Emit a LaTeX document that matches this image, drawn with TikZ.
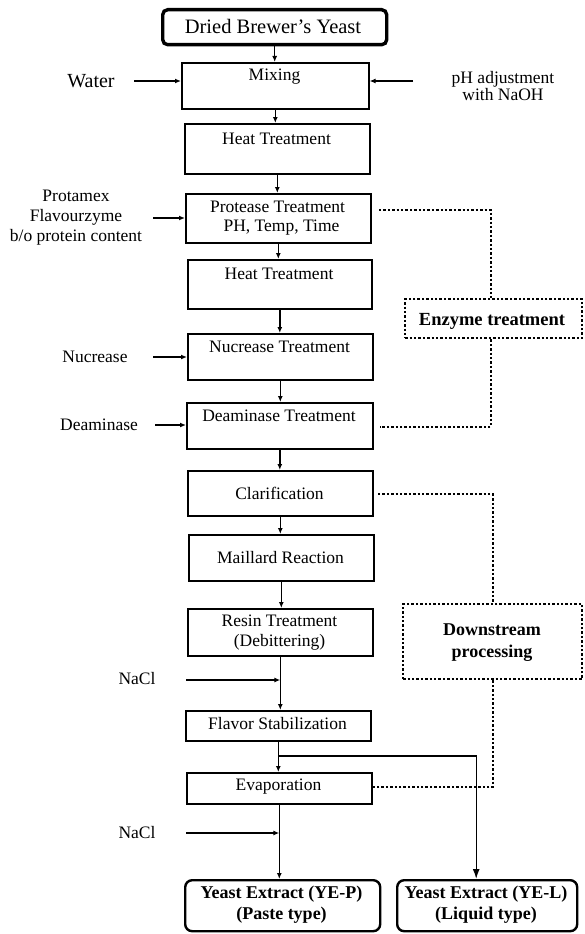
\documentclass[tikz,border=0pt]{standalone}
\usepackage{fontspec}
\setmainfont{Liberation Serif}
\usetikzlibrary{arrows.meta,calc}
\begin{document}
\begin{tikzpicture}[x=1pt,y=-1pt,
  box/.style={draw,line width=1.6pt,inner sep=0pt,anchor=north west},
  rbox/.style={draw,line width=2.4pt,rounded corners=7pt,inner sep=0pt,anchor=north west},
  dbox/.style={draw,line width=2.4pt,dash pattern=on 2.4pt off 2pt,inner sep=0pt,anchor=north west},
  txt/.style={font=\fontsize{17.5}{20}\selectfont,inner sep=0pt,align=center},
  btxt/.style={font=\fontsize{18}{21}\selectfont\bfseries,inner sep=0pt,align=center},
  arr/.style={line width=1.4pt,-{Latex[length=6pt,width=5pt]}},
  bigarr/.style={line width=1.4pt,-{Latex[length=10pt,width=7pt]}},
  dots/.style={line width=2.4pt,dash pattern=on 2.4pt off 2pt},
]
\useasboundingbox (0,0) rectangle (584,934);

% main column boxes
\node[rbox,line width=3.4pt,rounded corners=5pt,minimum width=224pt,minimum height=35pt] (dried) at (161,8) {};
\node[txt,font=\fontsize{20.5}{24}\selectfont] (driedT) at (273,26) {Dried Brewer’s Yeast};

\node[box,minimum width=187pt,minimum height=46pt] (mix) at (181,62) {};
\node[txt] (mixT) at (274.5,77) {Mixing};

\node[box,minimum width=185pt,minimum height=50pt] (heat1) at (184,123) {};
\node[txt] (heat1T) at (276.5,139) {Heat Treatment};

\node[box,minimum width=185pt,minimum height=49pt] (prot) at (185,193) {};
\node[txt,font=\fontsize{17.5}{19}\selectfont] (protT) at (277.5,218.5) {Protease Treatment\\\hspace*{8pt}PH, Temp, Time};

\node[box,minimum width=184pt,minimum height=49pt] (heat2) at (187,259) {};
\node[txt] (heat2T) at (279,274) {Heat Treatment};

\node[box,minimum width=185pt,minimum height=46pt] (nuc) at (187,333) {};
\node[txt] (nucT) at (279.5,347) {Nucrease Treatment};

\node[box,minimum width=186pt,minimum height=46pt] (deam) at (186,402) {};
\node[txt] (deamT) at (279,416) {Deaminase Treatment};

\node[box,minimum width=185pt,minimum height=45pt] (clar) at (187,470) {};
\node[txt] (clarT) at (279.5,493) {Clarification};

\node[box,minimum width=185pt,minimum height=46pt] (mail) at (188,534) {};
\node[txt] (mailT) at (280.5,558) {Maillard Reaction};

\node[box,minimum width=185pt,minimum height=47pt] (resin) at (187,608) {};
\node[txt] (resinT) at (279.5,633) {Resin Treatment\\(Debittering)};

\node[box,minimum width=185pt,minimum height=30pt] (flav) at (185,710) {};
\node[txt] (flavT) at (277.5,724) {Flavor Stabilization};

\node[box,minimum width=185pt,minimum height=31pt] (evap) at (186,772) {};
\node[txt] (evapT) at (278.5,787) {Evaporation};

\node[rbox,minimum width=195pt,minimum height=51pt] (paste) at (184,879) {};
\node[btxt] (pasteT) at (281.5,905) {Yeast Extract (YE-P)\\(Paste type)};

\node[rbox,minimum width=180pt,minimum height=51pt] (liquid) at (396,879) {};
\node[btxt] (liquidT) at (486,905) {Yeast Extract (YE-L)\\(Liquid type)};

% side dotted boxes
\node[dbox,minimum width=177pt,minimum height=39pt] (enz) at (404,298) {};
\node[btxt,font=\fontsize{18.5}{22}\selectfont\bfseries] (enzT) at (492,321) {Enzyme treatment};

\node[dbox,minimum width=179pt,minimum height=75pt] (down) at (402,603) {};
\node[btxt,font=\fontsize{18}{22}\selectfont\bfseries] (downT) at (492,643) {Downstream\\processing};

% left / right labels
\node[txt,font=\fontsize{20}{24}\selectfont] (water) at (91,81) {Water};
\node[txt,font=\fontsize{17.5}{14}\selectfont] (ph) at (503,86) {pH adjustment\\with NaOH};
\node[txt] (protam) at (76,218) {Protamex\\Flavourzyme\\b/o protein content};
\node[txt] (nucl) at (95,357) {Nucrease};
\node[txt] (deaml) at (99,425) {Deaminase};
\node[txt] (nacla) at (137,679) {NaCl};
\node[txt] (naclb) at (137,833) {NaCl};

% main flow arrows
\draw[arr] (dried.south) -- (dried.south |- mix.north);
\draw[arr] (mix.south) -- (mix.south |- heat1.north);
\draw[arr] (heat1.south) -- (heat1.south |- prot.north);
\draw[arr] (prot.south) -- (prot.south |- heat2.north);
\draw[arr] (heat2.south) -- (heat2.south |- nuc.north);
\draw[arr] (nuc.south) -- (nuc.south |- deam.north);
\draw[arr] (deam.south) -- (deam.south |- clar.north);
\draw[arr] (clar.south) -- (clar.south |- mail.north);
\draw[arr] (mail.south) -- (mail.south |- resin.north);
\draw[arr] (resin.south) -- (resin.south |- flav.north);
\draw[arr] (flav.south) -- (flav.south |- evap.north);
\draw[arr] (evap.south) -- (evap.south |- paste.north);

% branch to liquid
\coordinate (brY) at (0,756);
\draw[bigarr] (flav.south |- brY) -| ([xshift=-11pt]liquid.north);

% input arrows
\coordinate (wS) at (134,81);
\draw[arr] (wS) -- (wS -| mix.west);
\coordinate (phS) at (413,81);
\draw[arr] (phS) -- (phS -| mix.east);
\coordinate (pS) at (153,218);
\draw[arr] (pS) -- (pS -| prot.west);
\coordinate (nS) at (153,357);
\draw[arr] (nS) -- (nS -| nuc.west);
\coordinate (dS) at (155,425);
\draw[arr] (dS) -- (dS -| deam.west);
\coordinate (n1S) at (186,680);
\draw[arr] (n1S) -- (n1S -| resin.south);
\coordinate (n2S) at (186,833);
\draw[arr] (n2S) -- (n2S -| evap.south);

% dotted connectors
\coordinate (e1) at (379,210);
\draw[dots] (e1) -| ([xshift=-3pt]enz.north);
\coordinate (e2) at (380,427);
\draw[dots] ([xshift=-3pt]enz.south) |- (e2);
\coordinate (d1) at (378,494);
\draw[dots] (d1) -| (down.north);
\coordinate (d2) at (373,787);
\draw[dots] (down.south) |- (d2);
\end{tikzpicture}
\end{document}
